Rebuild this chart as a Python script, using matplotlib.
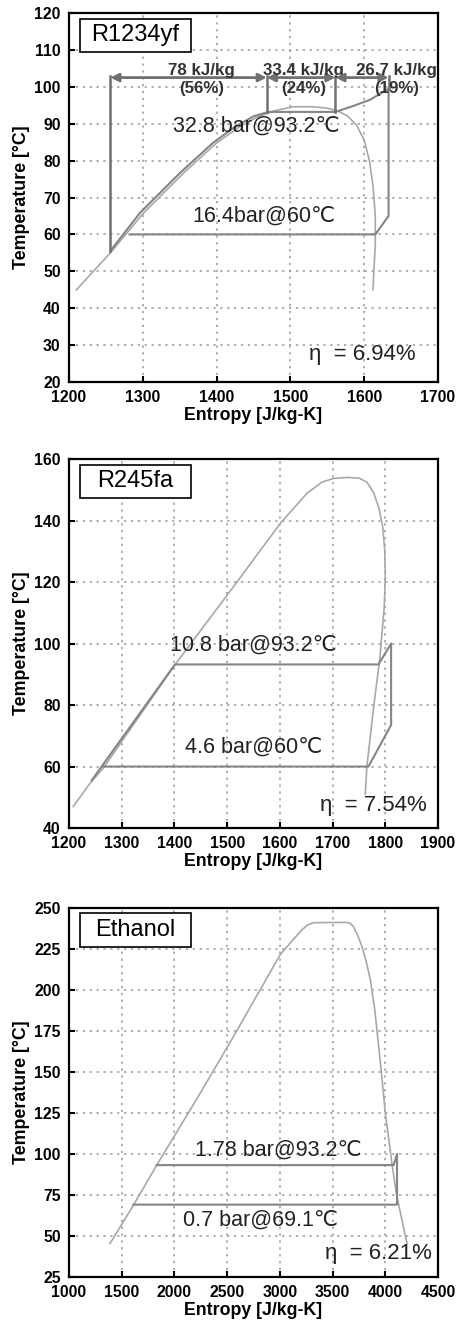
import matplotlib
matplotlib.use('Agg')
import matplotlib.pyplot as plt
from matplotlib.patches import Rectangle

plt.rcParams['font.family'] = ['Liberation Sans', 'DejaVu Sans']

# ---- R1234yf ----
yf_dome_s = [1210, 1256, 1301, 1355, 1400, 1430, 1455, 1480, 1504, 1530, 1550, 1565, 1578, 1590,
             1600, 1607, 1612, 1615, 1615, 1613, 1612]
yf_dome_T = [45, 55, 65.8, 76.6, 84.8, 89, 91.8, 93.6, 94.6, 94.6, 94.2, 93.4, 92, 89.5,
             85.5, 80, 73, 65, 57, 50, 45]
yf_cyc_s = [1256, 1296, 1350, 1395, 1425, 1450, 1470, 1561, 1585, 1608, 1633, 1633, 1615, 1282]
yf_cyc_T = [55.5, 65.8, 76.6, 84.8, 89.2, 92, 93.2, 93.2, 94.8, 96.5, 99.5, 65, 60, 60]
yf_marks = [1256, 1468, 1561, 1633]
yf_marks_lo = [55.5, 93.2, 93.2, 99.5]
yf_work = ['78 kJ/kg\n(56%)', '33.4 kJ/kg\n(24%)', '26.7 kJ/kg\n(19%)']

# ---- R245fa ----
fa_dome_s = [1208, 1240, 1265, 1401, 1512, 1601, 1651, 1680, 1702, 1727, 1750, 1765, 1778, 1788,
             1795, 1799, 1800, 1798, 1790, 1778, 1765, 1762]
fa_dome_T = [47, 54.6, 59.5, 93.1, 118.5, 139.1, 148.8, 152.5, 153.7, 154, 153.8, 152.5, 149, 144,
             138, 130, 122, 112, 95.8, 79.5, 60, 51]
fa_cyc_s = [1243, 1401, 1787, 1811, 1811, 1768, 1265]
fa_cyc_T = [55.5, 93.2, 93.2, 100, 73.5, 60, 60]

# ---- Ethanol ----
et_dome_s = [1389, 1611, 1832, 2244, 2560, 3003, 3070, 3130, 3200, 3260, 3320, 3636, 3670, 3699,
             3740, 3778, 3820, 3858, 3900, 3937, 3970, 4000, 4035, 4063, 4090, 4111, 4158, 4206]
et_dome_T = [45.4, 68.8, 93.2, 137, 171.6, 221.5, 226.5, 231, 236, 239.5, 241, 241.2, 240.5, 238.5,
             233, 226.6, 217, 206.2, 188, 165.5, 145, 124.8, 108, 94.2, 82, 73.9, 59.6, 45.4]
et_cyc_s = [1832, 4079, 4111, 4111, 1611]
et_cyc_T = [93.2, 93.2, 100, 69.1, 69.1]

panels = [
    dict(name='R1234yf', dome=(yf_dome_s, yf_dome_T), cyc=(yf_cyc_s, yf_cyc_T),
         xlim=(1200, 1700), xt=range(1200, 1701, 100), ylim=(20, 120), yt=range(20, 121, 10),
         hi=('32.8 bar@93.2\u2103', 1454, 89.3), lo=('16.4bar@60\u2103', 1464, 64.9),
         eta=('\u03b7  = 6.94%', 1597, 27.4), pos=[0.1507, 0.7121, 0.8057, 0.2781]),
    dict(name='R245fa', dome=(fa_dome_s, fa_dome_T), cyc=(fa_cyc_s, fa_cyc_T),
         xlim=(1200, 1900), xt=range(1200, 1901, 100), ylim=(40, 160), yt=range(40, 161, 20),
         hi=('10.8 bar@93.2\u2103', 1550, 99.6), lo=('4.6 bar@60\u2103', 1550, 66.3),
         eta=('\u03b7  = 7.54%', 1778, 47.4), pos=[0.1507, 0.3760, 0.8057, 0.2781]),
    dict(name='Ethanol', dome=(et_dome_s, et_dome_T), cyc=(et_cyc_s, et_cyc_T),
         xlim=(1000, 4500), xt=range(1000, 4501, 500), ylim=(25, 250), yt=range(25, 251, 25),
         hi=('1.78 bar@93.2\u2103', 2987, 102.4), lo=('0.7 bar@69.1\u2103', 2813, 59.6),
         eta=('\u03b7  = 6.21%', 3937, 39.2), pos=[0.1507, 0.0377, 0.8057, 0.2781]),
]

fig = plt.figure(figsize=(4.58, 13.27), dpi=100)

for p in panels:
    ax = fig.add_axes(p['pos'])
    ax.set_xlim(*p['xlim'])
    ax.set_ylim(*p['ylim'])
    ax.set_xticks(list(p['xt']))
    ax.set_yticks(list(p['yt']))
    ax.grid(True, color='#9a9a9a', linestyle=(0, (1.5, 3)), linewidth=1.1)
    ax.tick_params(direction='in', length=4, width=1.5, labelsize=11.3, pad=6)
    for lab in ax.get_xticklabels() + ax.get_yticklabels():
        lab.set_fontweight('bold')
    for sp in ax.spines.values():
        sp.set_linewidth(1.6)
    ax.set_xlabel('Entropy [J/kg-K]', fontsize=12.8, fontweight='bold', labelpad=1)
    ax.set_ylabel('Temperature [\u00b0C]', fontsize=12.8, fontweight='bold', labelpad=3)

    ax.plot(*p['dome'], color='#a8a8a8', linewidth=1.2)
    ax.plot(*p['cyc'], color='#858585', linewidth=1.5)

    for key in ('hi', 'lo'):
        t, x, y = p[key]
        ax.text(x, y, t, fontsize=15.5, ha='center', va='center', color='#222222')
    t, x, y = p['eta']
    ax.text(x, y, t, fontsize=16, ha='center', va='center', color='#222222')

    ax.add_patch(Rectangle((0.03, 0.895), 0.30, 0.09, transform=ax.transAxes,
                           facecolor='white', edgecolor='black', linewidth=1.2, zorder=5))
    ax.text(0.18, 0.94, p['name'], transform=ax.transAxes, fontsize=17,
            ha='center', va='center', zorder=6)

    if p['name'] == 'R1234yf':
        for xm, ylo in zip(yf_marks, yf_marks_lo):
            ax.plot([xm, xm], [ylo, 103], color='#707070', linewidth=1.8)
        for i, lab in enumerate(yf_work):
            x0, x1 = yf_marks[i], yf_marks[i + 1]
            ax.annotate('', xy=(x1, 102.5), xytext=(x0, 102.5),
                        arrowprops=dict(arrowstyle='<|-|>', color='#707070', lw=2,
                                        mutation_scale=12, shrinkA=0, shrinkB=0))
            xc = [1380, 1518, 1644][i]
            ax.text(xc, 102, lab, fontsize=12.2, fontweight='bold',
                    ha='center', va='center', color='#333333', linespacing=1.3)

fig.savefig('out.png', dpi=100)
